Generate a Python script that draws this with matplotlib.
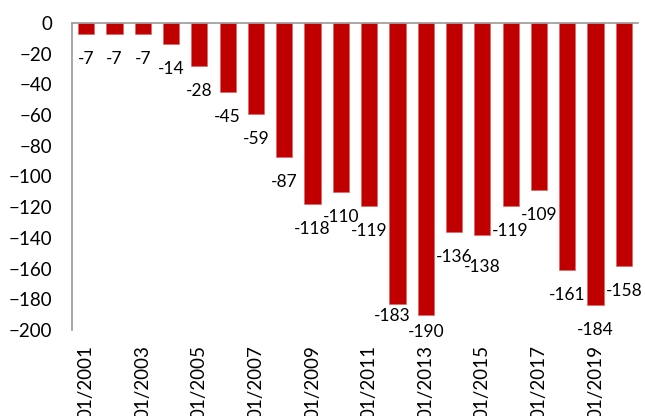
import numpy as np
import matplotlib.pyplot as plt

plt.rcParams['font.family'] = ['Lato', 'DejaVu Sans']

years = list(range(2001, 2021))
values = [-7, -7, -7, -14, -28, -45, -59, -87, -118, -110,
          -119, -183, -190, -136, -138, -119, -109, -161, -184, -158]
tick_labels = [f'01/{y}' for y in years]

# label offsets in pixels where the default would collide
label_nudge = {11: (-5, -12), 12: (0, -17), 14: (0, -32)}

fig = plt.figure(figsize=(6.45, 4.16), dpi=100)
ax = fig.add_axes([72 / 645, 1 - 330 / 416, 566 / 645, 307 / 416])

x = np.arange(len(values))
ax.bar(x, values, width=0.57, color='#C00000', edgecolor='#E06060', linewidth=0.4)

for i, (xi, v) in enumerate(zip(x, values)):
    dx, dy = label_nudge.get(i, (0, -25))
    ax.annotate(str(v), (xi, v), xytext=(dx, dy), textcoords='offset pixels',
                ha='center', va='center', fontsize=12.5, color='black')

ax.set_xlim(-0.5, len(values) - 0.5)
ax.set_ylim(-200, 0)
ax.set_yticks(range(-200, 1, 20))
ax.tick_params(axis='y', length=0, labelsize=13.5, pad=14)
ax.set_xticks(x[::2])
ax.set_xticklabels(tick_labels[::2], rotation=90, va='top', fontsize=13.5)
ax.tick_params(axis='x', length=0, pad=11)

for side in ['right', 'bottom']:
    ax.spines[side].set_visible(False)
for side in ['left', 'top']:
    ax.spines[side].set_color('#999999')
    ax.spines[side].set_linewidth(1.2)

fig.savefig('out.png', dpi=100)
